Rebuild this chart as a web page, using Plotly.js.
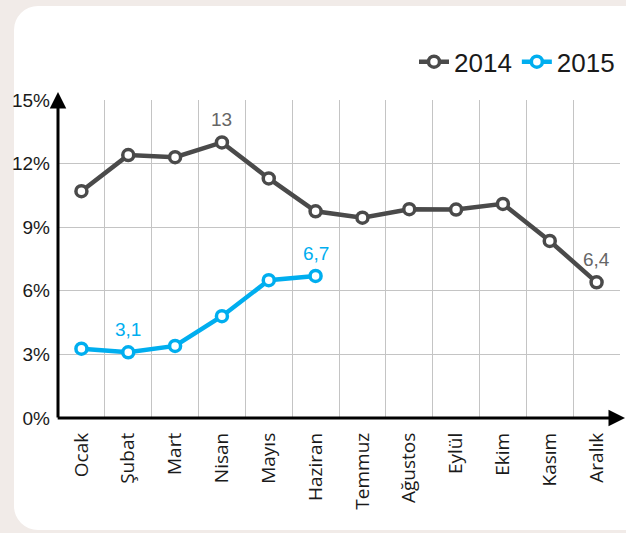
<!DOCTYPE html>
<html>
<head>
<meta charset="utf-8">
<script src="https://cdn.plot.ly/plotly-3.0.1.min.js"></script>
<style>
  html, body { margin:0; padding:0; width:626px; height:533px; overflow:hidden; background:#f1ebe8; }
  #panel { position:absolute; left:14px; top:6px; width:640px; height:524px; background:#ffffff; border-radius:24px; }
  #chart { position:absolute; left:0; top:0; width:626px; height:533px; }
</style>
</head>
<body>
<div id="panel"></div>
<div id="chart"></div>
<script>
const months = ["Ocak","Şubat","Mart","Nisan","Mayıs","Haziran","Temmuz","Ağustos","Eylül","Ekim","Kasım","Aralık"];
const values2014 = [10.7, 12.4, 12.3, 13.0, 11.3, 9.75, 9.45, 9.85, 9.83, 10.1, 8.35, 6.4];
const values2015 = [3.27, 3.1, 3.4, 4.8, 6.5, 6.7];
const labels2014 = ["", "", "", "13", "", "", "", "", "", "", "", "6,4"];
const labels2015 = ["", "3,1", "", "", "", "6,7"];
const yTicks = [0, 3, 6, 9, 12, 15];
const yTickText = ["0%", "3%", "6%", "9%", "12%", "15%"];

const gray = "#4a4a4a";
const blue = "#00aeef";
const numFont = "Liberation Sans Narrow, Arial Narrow, sans-serif";

const traces = [
  {
    name: "2014", x: months, y: values2014,
    mode: "lines+markers",
    line: {color: gray, width: 4.5},
    marker: {size: 11, color: "#ffffff", line: {color: gray, width: 3.5}},
    cliponaxis: false, hoverinfo: "skip"
  },
  {
    name: "2015", x: months.slice(0, values2015.length), y: values2015,
    mode: "lines+markers",
    line: {color: blue, width: 4.5},
    marker: {size: 11, color: "#ffffff", line: {color: blue, width: 3.5}},
    cliponaxis: false, hoverinfo: "skip"
  }
];

function labelAnnots(xs, ys, labels, color) {
  const out = [];
  labels.forEach((t, i) => {
    if (t) out.push({x: xs[i], y: ys[i], xref: "x", yref: "y", text: t, showarrow: false,
      yanchor: "bottom", yshift: 10, font: {family: numFont, size: 19, color: color}});
  });
  return out;
}

const layout = {
  width: 626, height: 533,
  margin: {l: 58, r: 6, t: 100, b: 115},
  paper_bgcolor: "rgba(0,0,0,0)",
  plot_bgcolor: "rgba(0,0,0,0)",
  showlegend: true,
  legend: {
    orientation: "h", x: 1, xanchor: "right", y: 1.12, yanchor: "middle",
    font: {family: numFont, size: 26, color: "#1a1a1a"},
    bgcolor: "rgba(0,0,0,0)", itemwidth: 30, tracegroupgap: 0
  },
  xaxis: {
    type: "category", range: [-0.5, 11.5], tickson: "boundaries",
    showgrid: true, gridcolor: "#c4c4c4", gridwidth: 1,
    showline: false, zeroline: false, ticks: "",
    tickangle: -90, ticklabelstandoff: 10,
    tickfont: {family: "Open Sans, sans-serif", size: 19, color: "#1a1a1a"}
  },
  yaxis: {
    range: [0, 15], tickvals: yTicks, ticktext: yTickText,
    showgrid: true, gridcolor: "#c4c4c4", gridwidth: 1,
    showline: false, zeroline: false, ticks: "", ticklabelstandoff: 7,
    tickfont: {family: numFont, size: 19, color: "#1a1a1a"}
  },
  annotations: [
    {xref: "paper", yref: "paper", x: 0, y: 1.025, axref: "pixel", ayref: "pixel", ax: 0, ay: 327,
     text: "", showarrow: true, arrowhead: 2, arrowsize: 1.1, arrowwidth: 3, arrowcolor: "#000000", standoff: 0, startstandoff: 0},
    {xref: "paper", yref: "paper", x: 1.011, y: 0, axref: "pixel", ayref: "pixel", ax: -570, ay: 0,
     text: "", showarrow: true, arrowhead: 2, arrowsize: 1.1, arrowwidth: 3, arrowcolor: "#000000", standoff: 0, startstandoff: 0}
  ].concat(labelAnnots(months, values2014, labels2014, "#666666"))
   .concat(labelAnnots(months, values2015, labels2015, blue))
};

Plotly.newPlot("chart", traces, layout, {displayModeBar: false, staticPlot: true});
</script>
</body>
</html>
